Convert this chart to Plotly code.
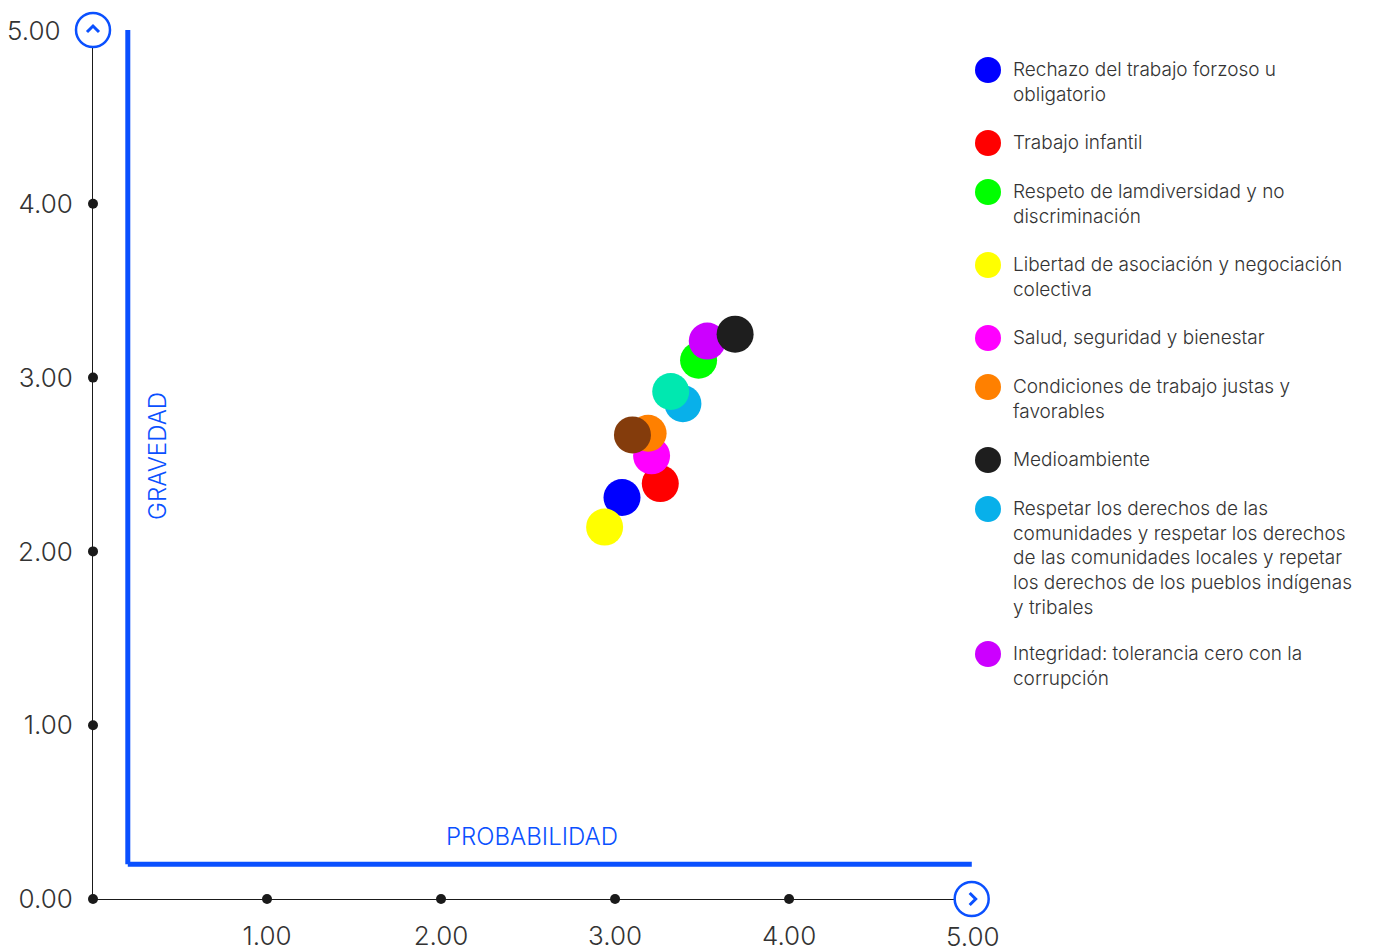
import plotly.graph_objects as go

# ---- data ----
names = [
    "Rechazo del trabajo forzoso u<br>obligatorio",
    "Trabajo infantil",
    "Respeto de lamdiversidad y no<br>discriminación",
    "Libertad de asociación y negociación<br>colectiva",
    "Salud, seguridad y bienestar",
    "Condiciones de trabajo justas y<br>favorables",
    "Medioambiente",
    "Respetar los derechos de las<br>comunidades y respetar los derechos<br>de las comunidades locales y repetar<br>los derechos de los pueblos indígenas<br>y tribales",
    "Integridad: tolerancia cero con la<br>corrupción",
    "Otro tema 1",
    "Otro tema 2",
]
colors = ["#0000ff", "#ff0000", "#00ff00", "#ffff00", "#ff00ff", "#ff8000",
          "#1e1e1e", "#08b0ea", "#cc00ff", "#00e8b0", "#843c0c"]
probabilidad = [3.04, 3.26, 3.48, 2.94, 3.21, 3.19, 3.69, 3.39, 3.53, 3.32, 3.10]
gravedad = [2.31, 2.39, 3.10, 2.14, 2.55, 2.68, 3.25, 2.85, 3.21, 2.92, 2.67]
in_legend = [True] * 9 + [False, False]
draw_order = [0, 3, 1, 4, 5, 7, 9, 10, 2, 8, 6]

y_ticks = [0, 1, 2, 3, 4]
y_ticktext = ["0.00", "1.00", "2.00", "3.00", "4.00"]
x_ticks = [1, 2, 3, 4]
x_ticktext = ["1.00", "2.00", "3.00", "4.00"]

FONT = "Inter"
BLUE = "#0a50ff"
TXT = "#333333"

OFF = 8  # page body margin
W, H = 1375 - OFF, 952 - OFF
L, T = 93 - OFF, 30 - OFF
R = W - (973 - OFF)
B = H - (899 - OFF)
PW, PH = W - L - R, H - T - B
X_MAX = 5.057


def px2paper(px, py):
    # px, py in reference screenshot pixels
    return (px - OFF - L) / PW, (H - B - (py - OFF)) / PH


def font(size, color=TXT):
    return dict(family=FONT, size=size, color=color, weight=300)


fig = go.Figure()

for i in draw_order:
    fig.add_trace(go.Scatter(
        x=[probabilidad[i]], y=[gravedad[i]], mode="markers",
        name=names[i].replace("<br>", " "),
        marker=dict(size=37, color=colors[i], line=dict(width=0)),
        cliponaxis=False, showlegend=False,
    ))

# axis tick dots
fig.add_trace(go.Scatter(
    x=[0] + x_ticks + [0] * (len(y_ticks) - 1),
    y=[0] * (len(x_ticks) + 1) + y_ticks[1:],
    mode="markers", marker=dict(size=10, color="#1a1a1a"),
    cliponaxis=False, showlegend=False, hoverinfo="skip",
))

shapes = []
annotations = []

# blue L axes
shapes.append(dict(type="line", xref="x", yref="y", x0=0.2, x1=0.2, y0=0.2, y1=5.0,
                   line=dict(color=BLUE, width=5)))
shapes.append(dict(type="line", xref="x", yref="y", x0=0.2, x1=5.05, y0=0.2, y1=0.2,
                   line=dict(color=BLUE, width=5)))

# circle icons (paper refs so they are not clipped)
for (cx, cy, path) in [(0.0, 1.0, "M-6,-2 L0,4 L6,-2"), (0.9985, 0.0, "M-2,-6 L4,0 L-2,6")]:
    shapes.append(dict(type="circle", xref="paper", yref="paper", xsizemode="pixel",
                       ysizemode="pixel", xanchor=cx, yanchor=cy, x0=-17, x1=17, y0=-17, y1=17,
                       fillcolor="white", line=dict(color=BLUE, width=2.5), layer="above"))
    shapes.append(dict(type="path", xref="paper", yref="paper", xsizemode="pixel",
                       ysizemode="pixel", xanchor=cx, yanchor=cy, path=path,
                       line=dict(color=BLUE, width=3), layer="above"))

annotations.append(dict(x=0.374, y=2.55, xref="x", yref="y", text="GRAVEDAD", textangle=-90,
                        showarrow=False, font=font(24, BLUE)))
annotations.append(dict(x=2.52, y=0.36, xref="x", yref="y", text="PROBABILIDAD",
                        showarrow=False, font=font(24, BLUE)))

# end labels
annotations.append(dict(x=0, y=5.0, xref="x", yref="y", text="5.00", showarrow=False,
                        xanchor="right", xshift=-30, font=font(26)))
annotations.append(dict(x=X_MAX, y=0, xref="x", yref="y", text="5.00", showarrow=False,
                        yanchor="middle", yshift=-37, font=font(26)))

# manual legend
line_h = 24
gap = 25
cy = 70
for i in range(len(names)):
    if not in_legend[i]:
        continue
    nlines = names[i].count("<br>") + 1
    xp, yp = px2paper(988, cy)
    shapes.append(dict(type="circle", xref="paper", yref="paper", xsizemode="pixel",
                       ysizemode="pixel", xanchor=xp, yanchor=yp, x0=-13, x1=13, y0=-13, y1=13,
                       fillcolor=colors[i], line=dict(width=0)))
    tx, ty = px2paper(1012, cy - 13)
    annotations.append(dict(x=tx, y=ty, xref="paper", yref="paper", text=names[i],
                            showarrow=False, xanchor="left", yanchor="top", align="left",
                            borderpad=0, font=font(19)))
    cy += nlines * line_h + gap

fig.update_layout(
    width=W, height=H,
    margin=dict(l=L, r=R, t=T, b=B, autoexpand=False),
    plot_bgcolor="white", paper_bgcolor="white",
    showlegend=False,
    shapes=shapes, annotations=annotations,
    xaxis=dict(range=[0, X_MAX], showgrid=False, zeroline=False, showline=True,
               linecolor="#1a1a1a", linewidth=1, tickvals=x_ticks, ticktext=x_ticktext,
               ticks="", ticklabelstandoff=14, automargin=False,
               tickfont=font(26), fixedrange=True),
    yaxis=dict(range=[0, 5], showgrid=False, zeroline=False, showline=True,
               linecolor="#1a1a1a", linewidth=1, tickvals=y_ticks, ticktext=y_ticktext,
               ticks="", ticklabelstandoff=14, automargin=False,
               tickfont=font(26), fixedrange=True),
)

fig.write_html("out.html")
